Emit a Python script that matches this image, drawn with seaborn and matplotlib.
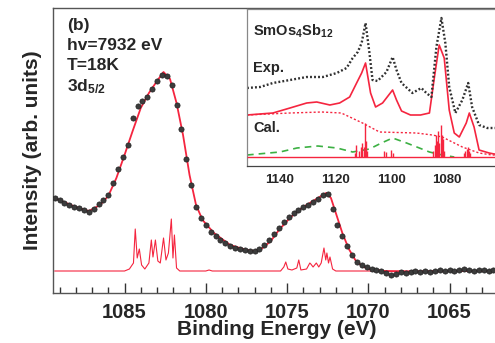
import numpy as np
import pandas as pd
import matplotlib
matplotlib.use('Agg')
import matplotlib.pyplot as plt
from matplotlib.ticker import MultipleLocator
import seaborn as sns

exp_e = np.round(np.arange(1089.3, 1062.2, -0.3), 1)
exp_i = [0.95, 0.93, 0.90, 0.88, 0.86, 0.85, 0.83, 0.81, 0.84, 0.89,
         0.93, 0.98, 1.10, 1.24, 1.36, 1.48, 1.75, 1.87, 1.92, 1.96,
         2.04, 2.12, 2.18, 2.17, 2.08, 1.88, 1.64, 1.34, 1.08, 0.86,
         0.75, 0.68, 0.61, 0.57, 0.53, 0.50, 0.47, 0.45, 0.44, 0.43,
         0.42, 0.42, 0.44, 0.48, 0.53, 0.59, 0.65, 0.71, 0.76, 0.80,
         0.83, 0.86, 0.88, 0.91, 0.94, 0.98, 0.99, 0.84, 0.68, 0.57,
         0.47, 0.38, 0.31, 0.28, 0.26, 0.24, 0.23, 0.22, 0.20, 0.18,
         0.19, 0.21, 0.20, 0.21, 0.22, 0.21, 0.22, 0.21, 0.22, 0.23,
         0.22, 0.23, 0.22, 0.23, 0.24, 0.23, 0.22, 0.23, 0.23, 0.22, 0.23]

# broadened calculation (red line through the dots)
fit_e = [1089.3, 1088.0, 1087.2, 1086.5, 1086.0, 1085.5, 1085.0, 1084.5, 1084.0, 1083.5,
         1083.0, 1082.6, 1082.2, 1081.8, 1081.4, 1081.0, 1080.6, 1080.2, 1079.5, 1078.5,
         1077.5, 1077.0, 1076.5, 1076.0, 1075.5, 1075.0, 1074.5, 1074.0, 1073.5, 1073.0,
         1072.6, 1072.3, 1072.0, 1071.6, 1071.2, 1070.8, 1070.4, 1070.0, 1069.0, 1067.0,
         1065.0, 1062.3]
fit_i = [0.95, 0.86, 0.82, 0.88, 0.97, 1.15, 1.38, 1.62, 1.85, 2.00,
         2.12, 2.21, 2.14, 1.90, 1.58, 1.18, 0.88, 0.73, 0.60, 0.48,
         0.43, 0.42, 0.45, 0.52, 0.63, 0.72, 0.80, 0.86, 0.91, 0.96,
         1.00, 0.95, 0.80, 0.60, 0.44, 0.33, 0.27, 0.24, 0.22, 0.21,
         0.22, 0.22]

# multiplet lines (thin red at the bottom)
calc_e = [1089.3, 1085.0, 1084.7, 1084.45, 1084.34, 1084.22, 1084.09, 1083.95, 1083.75, 1083.5,
          1083.35, 1083.25, 1083.1, 1082.95, 1082.8, 1082.6, 1082.45, 1082.3, 1082.12, 1082.02,
          1081.93, 1081.8, 1081.6, 1080.0, 1079.8, 1079.6, 1075.4, 1075.2, 1075.08, 1074.95,
          1074.7, 1074.4, 1074.28, 1074.15, 1073.8, 1073.6, 1073.54, 1073.4, 1073.2, 1073.05,
          1072.9, 1072.73, 1072.62, 1072.55, 1072.45, 1072.36, 1072.2, 1072.0, 1062.3]
calc_i = [0.22, 0.22, 0.24, 0.30, 0.64, 0.35, 0.44, 0.28, 0.24, 0.30,
          0.53, 0.36, 0.53, 0.32, 0.30, 0.55, 0.33, 0.40, 0.74, 0.35,
          0.58, 0.25, 0.22, 0.22, 0.23, 0.22, 0.22, 0.26, 0.31, 0.24,
          0.23, 0.25, 0.33, 0.23, 0.24, 0.30, 0.29, 0.26, 0.30, 0.26,
          0.30, 0.45, 0.33, 0.40, 0.30, 0.36, 0.24, 0.22, 0.22]

# inset: wide-range spectrum
in_exp_e = [1151.8, 1147.1, 1142.5, 1136.4, 1130.4, 1124.6, 1119.6, 1116.1, 1113.9, 1112.1,
            1110.7, 1109.3, 1107.9, 1106.8, 1105.0, 1101.8, 1099.6, 1098.2, 1096.4, 1092.5,
            1089.3, 1087.5, 1085.7, 1083.9, 1082.1, 1080.7, 1079.3, 1077.1, 1074.6, 1072.5,
            1071.1, 1068.6, 1065.7, 1063.2, 1061.2]
in_exp_i = [0.78, 0.79, 0.83, 0.86, 0.89, 0.89, 0.93, 0.98, 1.08, 1.14,
            1.23, 1.43, 1.13, 0.86, 0.85, 0.94, 1.09, 0.96, 0.83, 0.73,
            0.78, 0.73, 0.69, 1.19, 1.48, 1.23, 0.79, 0.53, 0.66, 0.83,
            0.59, 0.41, 0.38, 0.38, 0.38]

in_cal_e = [1151.8, 1142.5, 1136.4, 1130.4, 1126.8, 1122.1, 1118.6, 1115.0, 1112.5, 1110.7,
            1109.3, 1107.5, 1105.7, 1103.2, 1099.6, 1098.2, 1096.4, 1093.2, 1089.6, 1086.4,
            1084.6, 1082.9, 1081.1, 1079.3, 1077.5, 1075.7, 1073.2, 1072.1, 1070.4, 1068.6,
            1065.0, 1063.2, 1061.2]
in_cal_i = [0.51, 0.53, 0.58, 0.63, 0.64, 0.61, 0.63, 0.69, 0.83, 0.93,
            1.03, 0.73, 0.59, 0.63, 0.76, 0.66, 0.55, 0.51, 0.51, 0.53,
            0.89, 1.21, 1.08, 0.56, 0.33, 0.29, 0.43, 0.53, 0.39, 0.16,
            0.13, 0.12, 0.12]

bg_e = [1151.8, 1136.4, 1125.0, 1118.0, 1110.4, 1104.3, 1091.1, 1085.4, 1081.8, 1074.6, 1068.6, 1064.0, 1061.2]
bg_i = [0.51, 0.53, 0.54, 0.53, 0.43, 0.34, 0.33, 0.31, 0.29, 0.19, 0.13, 0.11, 0.11]

green_e = [1151.8, 1140.0, 1133.9, 1126.4, 1119.6, 1113.9, 1107.9, 1103.6, 1099.6, 1094.6,
           1090.0, 1086.4, 1081.8, 1077.5]
green_i = [0.11, 0.14, 0.18, 0.20, 0.18, 0.14, 0.17, 0.23, 0.28, 0.23,
           0.18, 0.14, 0.11, 0.09]

stick_e = [1113.2, 1112.6, 1111.8, 1111.0, 1110.5, 1110.0, 1109.6, 1109.2, 1108.7,
           1102.6, 1101.8, 1100.2, 1099.6,
           1085.0, 1084.5, 1084.0, 1083.6, 1083.2, 1082.8, 1082.4, 1082.0, 1081.7, 1081.3,
           1074.0, 1073.5, 1073.0, 1072.6, 1072.2, 1071.8]
stick_h = [0.04, 0.12, 0.06, 0.10, 0.14, 0.10, 0.34, 0.16, 0.06,
           0.06, 0.05, 0.07, 0.04,
           0.06, 0.12, 0.22, 0.16, 0.26, 0.14, 0.32, 0.22, 0.18, 0.06,
           0.04, 0.06, 0.08, 0.10, 0.06, 0.04]
stick_base = 0.09

sns.set_style('white')
plt.rcParams['font.family'] = ['Liberation Sans', 'DejaVu Sans']
plt.rcParams['font.weight'] = 'bold'
plt.rcParams['mathtext.fontset'] = 'custom'
plt.rcParams['mathtext.rm'] = 'Liberation Sans:bold'
plt.rcParams['mathtext.it'] = 'Liberation Sans:bold'
plt.rcParams['mathtext.bf'] = 'Liberation Sans:bold'
plt.rcParams['mathtext.default'] = 'rm'

red = '#f5253f'

fig = plt.figure(figsize=(4.95, 3.43), dpi=100)
ax = fig.add_axes([53/495, 50/343, 447/495, 285/343])

sns.lineplot(x=calc_e, y=calc_i, sort=False, estimator=None, color=red, lw=0.8, ax=ax)
sns.lineplot(x=fit_e, y=fit_i, sort=False, estimator=None, color=red, lw=1.3, ax=ax)
sns.scatterplot(x=exp_e, y=exp_i, s=14, color='#3c3c3c', edgecolor='#202020', linewidth=0.5, ax=ax, zorder=3)

ax.set_xlim(1089.4, 1061.9)
ax.set_ylim(0, 2.85)
ax.set_yticks([])
ax.xaxis.set_major_locator(MultipleLocator(5))
ax.xaxis.set_minor_locator(MultipleLocator(1))
ax.tick_params(axis='x', which='major', direction='in', length=7, width=1, labelsize=14.5, pad=7, color='#333')
ax.tick_params(axis='x', which='minor', direction='in', length=4, width=1, color='#333')
ax.tick_params(axis='x', top=False, bottom=True, which='both')
for s in ax.spines.values():
    s.set_color('#555')
    s.set_linewidth(1.0)
ax.set_xlabel('Binding Energy (eV)', fontsize=15, fontweight='bold', labelpad=-1)
ax.set_ylabel('Intensity (arb. units)', fontsize=15, fontweight='bold', labelpad=8)

ax.text(0.031, 0.94, '(b)', transform=ax.transAxes, fontsize=12.5, va='center', fontweight='bold')
ax.text(0.031, 0.870, 'hv=7932 eV', transform=ax.transAxes, fontsize=12.5, va='center', fontweight='bold')
ax.text(0.031, 0.797, 'T=18K', transform=ax.transAxes, fontsize=12.5, va='center', fontweight='bold')
ax.text(0.031, 0.725, '3d$_{5/2}$', transform=ax.transAxes, fontsize=12.5, va='center', fontweight='bold')

# inset
axi = fig.add_axes([247/495, (343-166)/343, 253/495, 157/343])
axi.set_facecolor('white')
sns.lineplot(x=green_e, y=green_i, sort=False, estimator=None, color='#3cb043', lw=1.2,
             linestyle=(0, (4, 3)), ax=axi)
axi.hlines(stick_base, 1061.1, 1151.8, colors=red, lw=1.0, zorder=3)
axi.vlines(stick_e, stick_base, [stick_base + h for h in stick_h], colors=red, lw=1.0, zorder=3)
sns.lineplot(x=bg_e, y=bg_i, sort=False, estimator=None, color=red, lw=1.0,
             linestyle=(0, (1.5, 1.5)), ax=axi)
sns.lineplot(x=in_cal_e, y=in_cal_i, sort=False, estimator=None, color=red, lw=1.2, ax=axi)
sns.lineplot(x=in_exp_e, y=in_exp_i, sort=False, estimator=None, color='#303030', lw=1.7,
             linestyle=(0, (0.8, 0.9)), ax=axi)

axi.set_xlim(1151.8, 1061.1)
axi.set_ylim(0, 1.57)
axi.set_yticks([])
axi.xaxis.set_major_locator(MultipleLocator(20))
axi.xaxis.set_minor_locator(MultipleLocator(2))
axi.tick_params(axis='x', which='major', direction='in', length=5, width=0.9, labelsize=9.5, pad=6, color='#444')
axi.tick_params(axis='x', which='minor', direction='in', length=3, width=0.8, color='#444')
for s in axi.spines.values():
    s.set_color('#888')
    s.set_linewidth(0.9)
axi.spines['bottom'].set_color('#444')
axi.text(0.025, 0.855, 'SmOs$_4$Sb$_{12}$', transform=axi.transAxes, fontsize=10.5, va='center', fontweight='bold')
axi.text(0.025, 0.625, 'Exp.', transform=axi.transAxes, fontsize=10.5, va='center', fontweight='bold')
axi.text(0.025, 0.24, 'Cal.', transform=axi.transAxes, fontsize=10.5, va='center', fontweight='bold')

fig.savefig('out.png', dpi=100)
